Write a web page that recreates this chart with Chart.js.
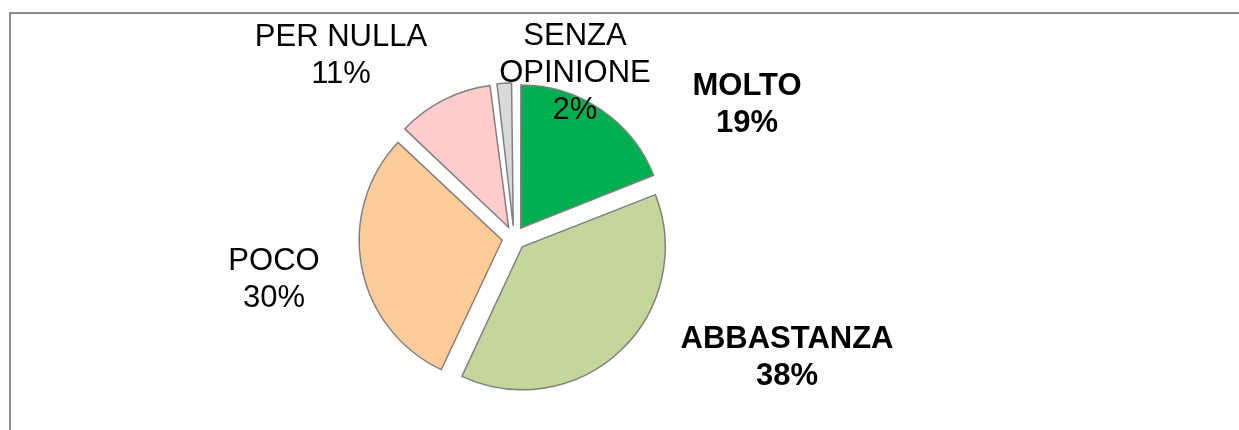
<!DOCTYPE html>
<html>
<head>
<meta charset="utf-8">
<script src="https://cdn.jsdelivr.net/npm/chart.js@4"></script>
<style>
  html, body { margin: 0; padding: 0; background: #fff; }
  canvas { display: block; }
</style>
</head>
<body>
<canvas id="pieChart" width="1239" height="430"></canvas>
<script>
// data
const categories = ['MOLTO', 'ABBASTANZA', 'POCO', 'PER NULLA', 'SENZA OPINIONE'];
const percentages = [19, 38, 30, 11, 2];
const labelNames = [['MOLTO'], ['ABBASTANZA'], ['POCO'], ['PER NULLA'], ['SENZA', 'OPINIONE']];
const sliceColors = ['#00B050', '#C3D69B', '#FFCC99', '#FFCCCC', '#D9D9D9'];

// layout
const pieRadius = 143;
const sliceOffset = 48; // chart.js moves a slice by offset / 4
const boldLabels = [true, true, false, false, false];
// label block centres, relative to the pie centre
const labelShift = [[233, -133], [273, 120], [-240, 42], [-173, -182], [61, -165]];

const framePlugin = {
    id: 'frame',
    beforeDraw(chart) {
        const ctx = chart.ctx;
        ctx.save();
        ctx.strokeStyle = '#8c8c8c';
        ctx.lineWidth = 2;
        ctx.beginPath();
        ctx.moveTo(10, 430);
        ctx.lineTo(10, 13);
        ctx.lineTo(1239, 13);
        ctx.stroke();
        ctx.restore();
    }
};

// keep every slice the same radius (chart.js grows offset slices a bit)
const radiusFix = {
    id: 'radiusFix',
    afterDatasetsUpdate(chart) {
        chart.getDatasetMeta(0).data.forEach(arc => {
            const fix = 1 - Math.sin(Math.min(Math.PI, arc.circumference || 0));
            arc.outerRadius = pieRadius - (sliceOffset / 4) * fix;
        });
    }
};

const outsideLabels = {
    id: 'outsideLabels',
    afterDatasetsDraw(chart) {
        const ctx = chart.ctx;
        const arcs = chart.getDatasetMeta(0).data;
        const cx = arcs[0].x, cy = arcs[0].y;
        const lineH = 37;
        ctx.save();
        ctx.fillStyle = '#000';
        ctx.textAlign = 'center';
        ctx.textBaseline = 'middle';
        categories.forEach((c, i) => {
            const lines = labelNames[i].concat([percentages[i] + '%']);
            ctx.font = (boldLabels[i] ? 'bold ' : '') + '31px "Liberation Sans", Arial, sans-serif';
            const x = cx + labelShift[i][0];
            const y0 = cy + labelShift[i][1] - (lines.length - 1) * lineH / 2;
            lines.forEach((t, k) => ctx.fillText(t, x, y0 + k * lineH));
        });
        ctx.restore();
    }
};

new Chart(document.getElementById('pieChart'), {
    type: 'pie',
    data: {
        labels: categories,
        datasets: [{
            data: percentages,
            backgroundColor: sliceColors,
            borderColor: '#808080',
            borderWidth: 1.5,
            borderJoinStyle: 'miter',
            offset: sliceOffset,
            hoverOffset: 0
        }]
    },
    options: {
        responsive: false,
        animation: false,
        radius: pieRadius,
        layout: { padding: { left: 0, right: 211, top: 46, bottom: 0 } },
        plugins: {
            legend: { display: false },
            tooltip: { enabled: false }
        }
    },
    plugins: [framePlugin, radiusFix, outsideLabels]
});
</script>
</body>
</html>
